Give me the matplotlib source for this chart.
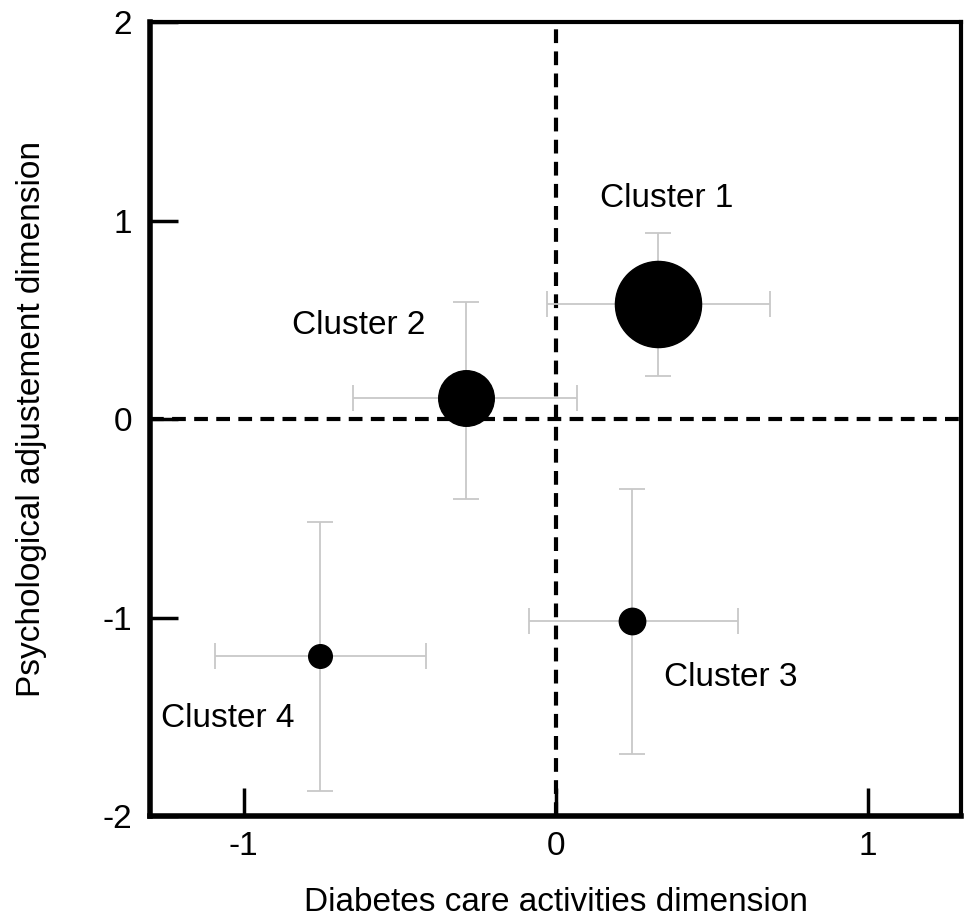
import numpy as np
import matplotlib.pyplot as plt

plt.rcParams['font.family'] = ['Liberation Sans', 'DejaVu Sans']
plt.rcParams['axes.unicode_minus'] = False

# cluster data
labels = ['Cluster 1', 'Cluster 2', 'Cluster 3', 'Cluster 4']
x_mean = [0.329, -0.288, 0.246, -0.754]
y_mean = [0.581, 0.105, -1.018, -1.193]
x_low = [-0.026, -0.649, -0.086, -1.093]
x_high = [0.687, 0.070, 0.585, -0.415]
y_low = [0.216, -0.401, -1.689, -1.875]
y_high = [0.937, 0.591, -0.351, -0.521]
marker_size = [62, 40, 19, 17]
label_pos = [(0.355, 1.11), (-0.63, 0.47), (0.56, -1.30), (-1.05, -1.51)]

x_mean = np.array(x_mean)
y_mean = np.array(y_mean)
xerr = [x_mean - np.array(x_low), np.array(x_high) - x_mean]
yerr = [y_mean - np.array(y_low), np.array(y_high) - y_mean]

fig = plt.figure(figsize=(9.64, 9.22), dpi=100)
ax = fig.add_axes([0.1556, 0.115, 0.8414, 0.861])

ax.axvline(0, color='black', lw=3, ls=(0, (3.3, 2)), zorder=1)
ax.axhline(0, color='black', lw=3, ls=(0, (3.3, 2)), zorder=1)

ax.errorbar(x_mean, y_mean, xerr=xerr, yerr=yerr, fmt='none',
            ecolor='#c8c8c8', elinewidth=1.3, capsize=9.5, capthick=1.3, zorder=2)
for i in range(len(labels)):
    ax.plot(x_mean[i], y_mean[i], 'o', color='black', markersize=marker_size[i], zorder=3)
    ax.text(label_pos[i][0], label_pos[i][1], labels[i], fontsize=24,
            ha='center', va='center')

ax.set_xlim(-1.3, 1.3)
ax.set_ylim(-2, 2)
ax.set_xticks([-1, 0, 1])
ax.set_yticks([-2, -1, 0, 1, 2])
ax.set_yticklabels(['-2', '-1', '0', '1', '2'])
ax.set_xticklabels(['-1', '0', '1'])
ax.tick_params(direction='in', length=20, width=2.5, labelsize=24)
ax.tick_params(axis='x', pad=11)
ax.tick_params(axis='y', pad=13)

ax.spines['left'].set_linewidth(4)
ax.spines['bottom'].set_linewidth(4)
ax.spines['top'].set_linewidth(3)
ax.spines['right'].set_linewidth(3)

ax.set_xlabel('Diabetes care activities dimension', fontsize=24, labelpad=18)
ax.set_ylabel('Psychological adjustement dimension', fontsize=24, labelpad=40)

fig.savefig('out.png', dpi=100)
